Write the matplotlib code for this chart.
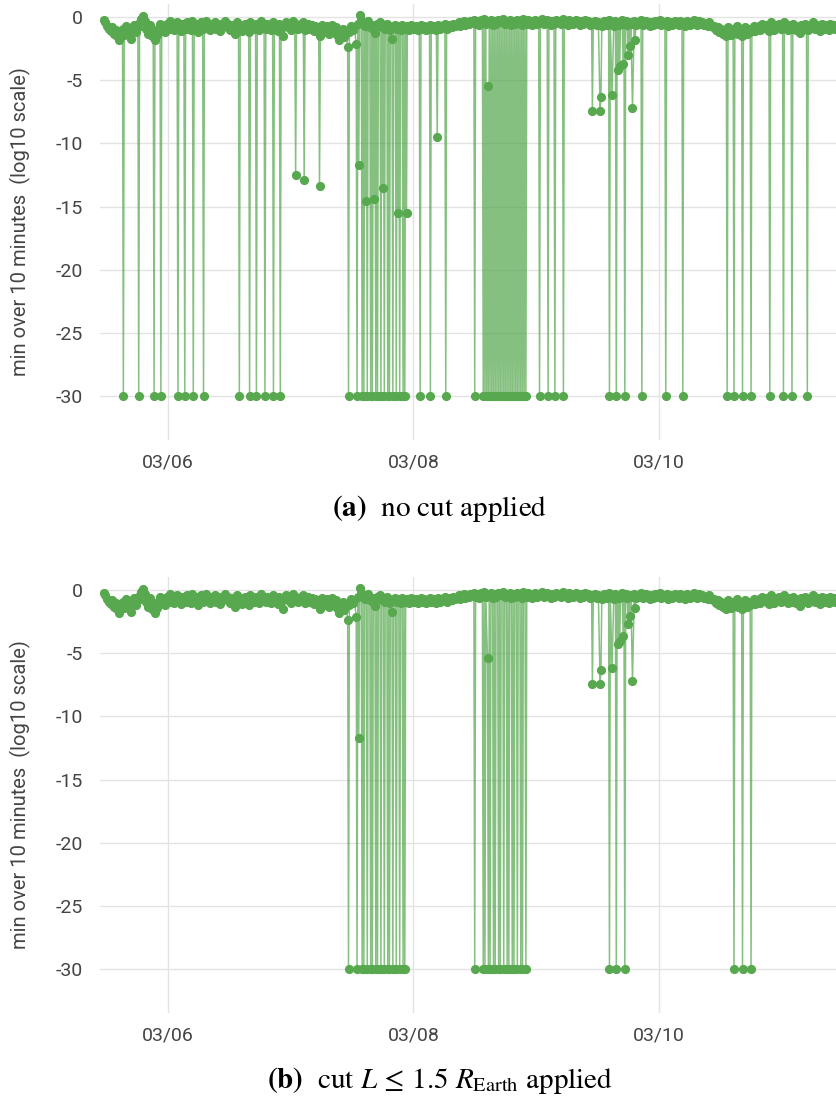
import numpy as np
import matplotlib
matplotlib.use("Agg")
import matplotlib.pyplot as plt
import matplotlib.dates as mdates

plt.rcParams['axes.unicode_minus'] = False
plt.rcParams['mathtext.fontset'] = 'stix'

# ---------------------------------------------------------------------------
# Data: log10 of the 10-minute minimum.  Times are minutes after 03/06 00:00.
# ---------------------------------------------------------------------------
day0 = np.datetime64('2021-03-06T00:00')
base_start_min = -750          # first baseline sample (03/05 11:30)
base_step_min = 20

# quiet-time baseline, one sample every 20 minutes (rows of 8 hours)
base_vals = [
    -0.2, -0.4, -0.7, -0.9, -1.1, -0.8, -1.3, -1.0, -1.5, -1.8, -1.2, -0.9,
    -1.4, -0.7, -1.1, -1.3, -1.7, -1.0, -0.6, -1.2, -0.8, -0.4, -0.1, 0.1,
    -0.3, -0.9, -1.3, -0.6, -1.5, -1.1, -1.8, -1.4, -0.9, -0.5, -1.0, -0.7,
    -1.2, -0.5, -0.9, -0.3, -0.7, -1.0, -0.6, -0.4, -0.8, -1.1, -0.5, -0.7,
    -0.9, -0.4, -0.6, -1.0, -0.3, -0.8, -0.5, -1.2, -0.7, -0.4, -0.9, -0.6,
    -0.3, -0.8, -1.0, -0.5, -0.7, -0.4, -0.9, -0.6, -1.1, -0.5, -0.8, -0.3,
    -0.7, -0.5, -1.0, -0.6, -0.8, -1.3, -0.4, -0.9, -0.6, -1.1, -0.7, -0.5,
    -0.8, -1.2, -0.4, -0.7, -0.9, -0.5, -0.6, -1.0, -0.3, -0.8, -0.6, -0.9,
    -0.5, -0.7, -1.0, -0.4, -0.8, -0.6, -1.1, -0.5, -0.9, -1.45, -0.7, -0.4,
    -0.8, -0.6, -1.0, -0.3, -0.7, -0.5, -0.9, -0.6, -0.8, -0.4, -1.0, -0.7,
    -0.5, -0.9, -0.6, -1.1, -0.7, -1.0, -0.8, -1.5, -0.6, -1.2, -0.9, -0.7,
    -1.3, -1.0, -0.6, -1.1, -0.8, -1.4, -1.8, -1.3, -0.9, -1.6, -1.1, -2.35,
    -1.2, -0.7, -1.0, -0.8, -2.1, -0.5, 0.15, -0.2, -0.4, -0.7, -0.5, -0.3,
    -0.8, -0.6, -0.9, -1.26, -0.5, -0.7, -0.4, -0.8, -0.6, -0.9, -0.5, -0.7,
    -1.0, -1.7, -0.8, -0.6, -0.9, -0.7, -1.0, -0.6, -0.8, -0.9, -0.7, -1.0,
    -0.6, -0.8, -0.9, -0.7, -1.0, -0.8, -0.6, -0.9, -0.7, -1.0, -0.8, -0.6,
    -0.9, -0.7, -0.8, -1.0, -0.6, -0.9, -0.7, -0.8, -0.5, -0.9, -0.7, -0.6,
    -0.8, -0.5, -0.7, -0.6, -0.4, -0.7, -0.5, -0.3, -0.6, -0.4, -0.5, -0.3,
    -0.4, -0.2, -0.5, -0.3, -0.6, -0.2, -0.4, -0.1, -0.5, -0.3, -0.4, -0.2,
    -0.6, -0.3, -0.5, -0.2, -0.4, -0.3, -0.1, -0.5, -0.3, -0.4, -0.2, -0.6,
    -0.3, -0.5, -0.2, -0.4, -0.3, -0.6, -0.1, -0.4, -0.5, -0.2, -0.3, -0.6,
    -0.4, -0.2, -0.5, -0.3, -0.4, -0.1, -0.5, -0.3, -0.2, -0.4, -0.6, -0.3,
    -0.5, -0.2, -0.4, -0.3, -0.5, -0.1, -0.4, -0.3, -0.6, -0.2, -0.4, -0.5,
    -0.3, -0.2, -0.4, -0.6, -0.3, -0.5, -0.2, -0.4, -0.3, -0.6, -0.4, -0.5,
    -0.3, -0.6, -0.4, -0.5, -0.7, -0.3, -0.4, -0.6, -0.2, -0.5, -0.4, -0.7,
    -0.3, -0.5, -0.6, -0.4, -0.2, -0.5, -0.3, -0.6, -0.4, -0.5, -0.7, -0.3,
    -0.6, -0.4, -0.5, -0.2, -0.6, -0.4, -0.3, -0.5, -0.7, -0.4, -0.6, -0.3,
    -0.5, -0.4, -0.2, -0.6, -0.4, -0.5, -0.3, -0.7, -0.4, -0.6, -0.5, -0.3,
    -0.4, -0.6, -0.3, -0.5, -0.4, -0.7, -0.3, -0.5, -0.6, -0.4, -0.2, -0.5,
    -0.6, -0.3, -0.5, -0.4, -0.6, -0.5, -0.7, -0.4, -0.6, -0.8, -0.7, -1.0,
    -0.8, -1.2, -0.9, -1.3, -1.0, -1.5, -0.8, -1.1, -1.4, -0.9, -1.2, -0.7,
    -1.3, -1.0, -1.5, -1.1, -0.8, -1.3, -0.9, -1.2, -1.0, -0.7, -1.1, -0.9,
    -0.7, -1.0, -0.5, -0.8, -0.6, -0.9, -1.1, -0.4, -0.7, -1.0, -0.6, -0.8,
    -0.5, -0.9, -0.7, -0.4, -0.8, -1.0, -0.6, -0.9, -0.5, -0.7, -1.0, -0.8,
    -1.25, -0.6, -0.9, -0.5, -0.8, -1.0, -0.6, -0.7, -0.4, -0.9, -0.6, -0.8,
    -1.1, -0.5, -0.7, -0.9, -0.6, -1.0, -0.5, -0.8, -0.6, -0.9, -0.7, -0.5,
]

floor_val = -30.0   # value used when the minimum is zero

# samples at the floor, no cut
floor_min_a = [
    -520, -340, -160, -80, 120, 200, 300, 420, 840, 960, 1040, 1140, 1240, 1320,
    2120, 2220,
    2280, 2300, 2340, 2380, 2400, 2440, 2460, 2500, 2540, 2580, 2600, 2640,
    2680, 2720, 2760, 2780,
    2960, 3080, 3260, 3600, 3700,
    3720, 3740, 3760, 3780, 3800, 3820, 3840, 3860, 3880, 3900, 3920, 3940,
    3960, 3980, 4000, 4020, 4040, 4060, 4080, 4100, 4120, 4140, 4160, 4180, 4200,
    4360, 4460, 4540, 4640, 5180, 5260, 5360, 5560, 5840, 6040,
    6560, 6640, 6740, 6840, 7060, 7220, 7320, 7500,
]
# samples at the floor, with the L cut
floor_min_b = [
    2120, 2220,
    2280, 2300, 2340, 2380, 2400, 2440, 2460, 2500, 2540, 2580, 2600, 2640,
    2680, 2720, 2760, 2780,
    3600, 3700,
    3720, 3760, 3780, 3820, 3840, 3880, 3900, 3940, 3980, 4000, 4040, 4060,
    4100, 4140, 4160, 4200,
    5180, 5260, 5360, 6640, 6740, 6840,
]

# intermediate low samples, no cut
low_min_a = [1500, 1600, 1780, 2240, 2320, 2420, 2520, 2700, 2800, 3160, 3750,
             4980, 5070, 5080, 5210, 5280, 5300, 5340, 5400, 5420, 5450, 5480]
low_val_a = [-12.5, -12.9, -13.4, -11.7, -14.6, -14.4, -13.5, -15.5, -15.5, -9.5, -5.45,
             -7.45, -7.45, -6.35, -6.2, -4.2, -3.9, -3.7, -3.0, -2.3, -7.2, -1.8]
# intermediate low samples, with the L cut
low_min_b = [2240, 3750, 4980, 5070, 5080, 5210, 5280, 5300, 5340, 5400, 5420, 5450, 5480]
low_val_b = [-11.7, -5.4, -7.45, -7.45, -6.3, -6.2, -4.25, -4.0, -3.6, -2.7, -2.05, -7.2, -1.4]

y_ticks = [0, -5, -10, -15, -20, -25, -30]
y_label = "min over 10 minutes  (log10 scale)"
captions = [r"$\mathbf{(a)}$  no cut applied",
            r"$\mathbf{(b)}$  cut $L\,\leq\,1.5\ R_{\mathrm{Earth}}$ applied"]


def build_series(floor_mins, low_mins, low_vals):
    pts = {}
    for i, v in enumerate(base_vals):
        pts[base_start_min + i * base_step_min] = v
    for t in floor_mins:
        pts[t] = floor_val
    for t, v in zip(low_mins, low_vals):
        pts[t] = v
    keys = sorted(pts)
    times = day0 + np.array(keys).astype('timedelta64[m]')
    return times.astype('datetime64[m]').astype(object), np.array([pts[k] for k in keys])


series = [build_series(floor_min_a, low_min_a, low_val_a),
          build_series(floor_min_b, low_min_b, low_val_b)]

# ---------------------------------------------------------------------------
W, H = 837, 1097
fig = plt.figure(figsize=(W / 100, H / 100), dpi=100)

green = '#57a84f'
grid_c = '#e3e3e3'
text_c = '#444444'
tick_font = 'Roboto'

x_left = (day0 + np.timedelta64(-794, 'm')).astype(object)
x_right = (day0 + np.timedelta64(7848, 'm')).astype(object)

panel_px = [(4, 440), (577, 1013)]
caption_y = [508, 1080]
ax_left = 100

for k, ((t, v), (top, bot)) in enumerate(zip(series, panel_px)):
    ax = fig.add_axes([ax_left / W, 1 - bot / H, (W - ax_left) / W, (bot - top) / H])
    ax.set_facecolor('white')
    for s in ax.spines.values():
        s.set_visible(False)
    ax.plot(t, v, color=green, lw=1.1, alpha=0.72, zorder=2)
    ax.plot(t, v, ls='none', marker='o', ms=5.6, color=green, mec=green, zorder=3)
    ax.set_ylim(-33.5, 1.05)
    ax.set_xlim(x_left, x_right)
    ax.set_yticks(y_ticks)
    ax.set_yticklabels([str(y) for y in y_ticks])
    ax.xaxis.set_major_locator(mdates.DayLocator(bymonthday=range(2, 32, 2)))
    ax.xaxis.set_major_formatter(mdates.DateFormatter('%m/%d'))
    ax.grid(True, color=grid_c, lw=1.0, zorder=0)
    ax.set_axisbelow(True)
    ax.tick_params(length=0, labelsize=14, labelcolor=text_c, pad=12)
    ax.tick_params(axis='x', pad=10)
    for lab in ax.get_xticklabels() + ax.get_yticklabels():
        lab.set_fontfamily(tick_font)
    fig.text(20 / W, 1 - (top + bot) / 2 / H, y_label, rotation=90, ha='center', va='center',
             fontsize=14.5, color=text_c, family=tick_font)
    fig.text(440 / W, 1 - caption_y[k] / H, captions[k], ha='center', va='center',
             fontsize=21, color='black', family='STIXGeneral')

fig.savefig('out.png', dpi=100, facecolor='white')
